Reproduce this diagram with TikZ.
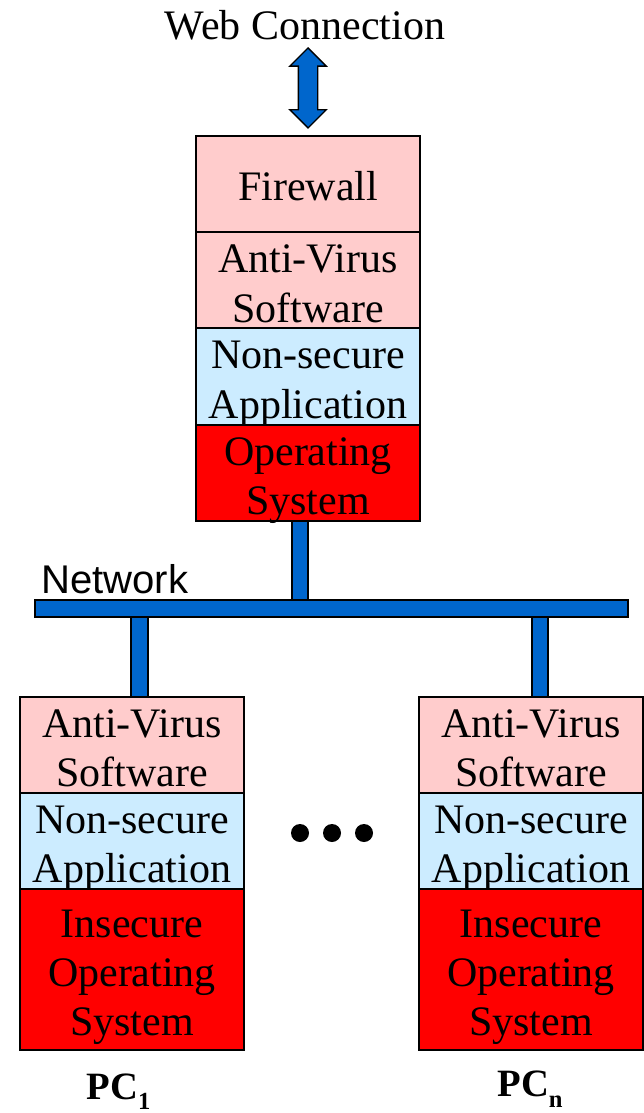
\documentclass[tikz,border=0pt]{standalone}
\usepackage{fontspec}
\setmainfont{Liberation Serif}
\newfontfamily\netfont{Liberation Sans}
\usepackage{tikz}
\usetikzlibrary{shapes.arrows}
\definecolor{shieldpink}{RGB}{255,204,204}
\definecolor{applight}{RGB}{204,236,255}
\definecolor{osred}{RGB}{255,0,0}
\definecolor{netblue}{RGB}{0,102,204}
% strut: fixed line height/depth so every layer sets its lines alike
\newcommand{\ls}{\rule[-0.11cm]{0pt}{0.9cm}}
\tikzstyle{Shield}=[rectangle, minimum width=4.48cm, minimum height=1.925cm, inner sep=0pt, fill=shieldpink, line width=1.1pt, draw=black, align=center, text=black, font=\fontsize{23.9pt}{28.15pt}\selectfont]
\tikzstyle{App}=[Shield, fill=applight]
\tikzstyle{System}=[Shield, fill=osred]
\tikzstyle{Label}=[inner sep=0pt, text=black, font=\fontsize{23.9pt}{28.15pt}\selectfont]
\tikzstyle{PcLabel}=[inner sep=0pt, text=black, font=\fontsize{22pt}{26pt}\selectfont\bfseries]
\tikzstyle{WebArrow}=[double arrow, draw=black, fill=netblue, line width=0.8pt, rotate=90, minimum height=1.6cm, minimum width=0.7cm, inner sep=0.18cm, double arrow head extend=0.17cm]
\tikzstyle{bus}=[draw=black, line width=1.1pt, double=netblue, double distance=0.29cm]
\pgfdeclarelayer{nodelayer}
\pgfdeclarelayer{edgelayer}
\pgfsetlayers{edgelayer, nodelayer, main}

\begin{document}
\begin{tikzpicture}
	\useasboundingbox (0,0) rectangle (12.88,-22.26);
	\begin{pgfonlayer}{nodelayer}
		\node [style=Label, anchor=base] (webtext) at (6.1, -0.8) {Web Connection};
		\node [style=WebArrow] (webarrow) at (6.16, -1.76) {};

		% server
		\node [style=Shield] (firewall) at (6.16, -3.68) {\ls\smash{Firewall}};
		\node [style=Shield] (antivirus) at (6.16, -5.61) {\ls Anti-Virus\\\smash{Software}\ls};
		\node [style=App] (app) at (6.16, -7.53) {\ls Non-secure\\\smash{Application}\ls};
		\node [style=System] (os) at (6.16, -9.46) {\ls Operating\\\smash{System}\ls};

		\node [style=Label, anchor=base west, font=\netfont\fontsize{22.8pt}{26pt}\selectfont] (nettext) at (0.82, -11.86) {Network};
		\node [rectangle, draw=black, line width=1.1pt, fill=netblue, minimum width=11.86cm, minimum height=0.34cm, inner sep=0pt] (network) at (6.63, -12.17) {};

		% PC 1
		\node [style=Shield] (antivirusA) at (2.64, -14.9) {\ls Anti-Virus\\\smash{Software}\ls};
		\node [style=App] (appA) at (2.64, -16.82) {\ls Non-secure\\\smash{Application}\ls};
		\node [style=System, minimum height=3.22cm] (osA) at (2.64, -19.39) {\ls Insecure\\Operating\\\smash{System}\ls};
		\node [style=PcLabel, anchor=base] (pcA) at (2.37, -21.98) {PC\raisebox{-0.2cm}{\fontsize{14pt}{14pt}\selectfont 1}};

		% PC n
		\node [style=Shield] (antivirusN) at (10.62, -14.9) {\ls Anti-Virus\\\smash{Software}\ls};
		\node [style=App] (appN) at (10.62, -16.82) {\ls Non-secure\\\smash{Application}\ls};
		\node [style=System, minimum height=3.22cm] (osN) at (10.62, -19.39) {\ls Insecure\\Operating\\\smash{System}\ls};
		\node [style=PcLabel, anchor=base] (pcN) at (10.6, -21.92) {PC\raisebox{-0.22cm}{\fontsize{14pt}{14pt}\selectfont n}};

		% dots
		\foreach \x in {6.0, 6.64, 7.28}
			\fill [black] (\x, -16.66) circle (0.18);
	\end{pgfonlayer}
	\begin{pgfonlayer}{edgelayer}
		\coordinate (tap) at (6.0, -12.17);
		\coordinate (tapA) at (2.79, -12.17);
		\coordinate (tapN) at (10.8, -12.17);
		\draw [style=bus] (os.south -| tap) to (tap |- network.north);
		\draw [style=bus] (tapA |- network.south) to (tapA |- antivirusA.north);
		\draw [style=bus] (tapN |- network.south) to (tapN |- antivirusN.north);
	\end{pgfonlayer}
\end{tikzpicture}
\end{document}
